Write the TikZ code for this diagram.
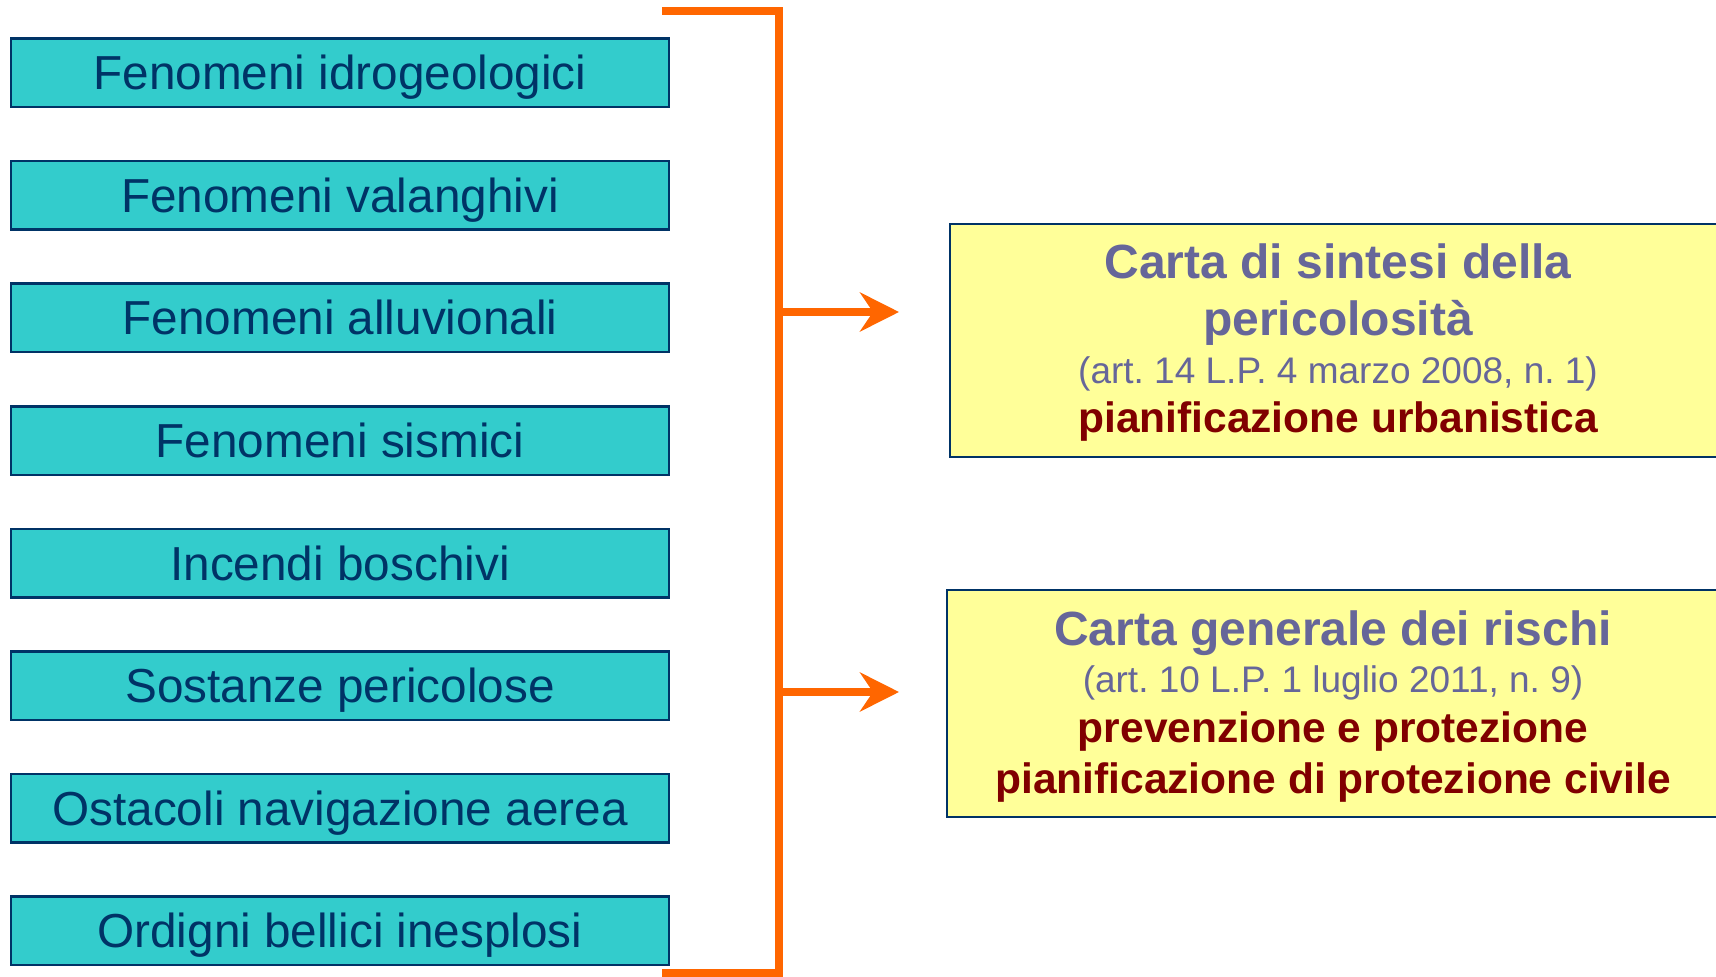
\documentclass[tikz,border=0pt]{standalone}
\usepackage{fontspec}
\setmainfont{Liberation Sans}
\usetikzlibrary{arrows.meta}
\frenchspacing
\definecolor{teal1}{RGB}{51,204,204}
\definecolor{navy1}{RGB}{0,51,102}
\definecolor{yel1}{RGB}{255,255,153}
\definecolor{slate1}{RGB}{102,102,153}
\definecolor{dred}{RGB}{128,0,0}
\definecolor{orng}{RGB}{255,102,0}
\tikzset{
  hazard/.style={draw=navy1, line width=2.5pt, fill=teal1, minimum width=658pt,
    minimum height=68.5pt, inner sep=0pt, text height=34pt, text depth=0pt,
    text=navy1, font=\fontsize{47.7}{57}\selectfont},
  cartabox/.style={draw=navy1, line width=2.2pt, fill=yel1, anchor=north west, inner sep=0pt},
  ttl/.style={anchor=base, inner sep=0pt, text=slate1, font=\bfseries\fontsize{48}{57}\selectfont},
  subttl/.style={anchor=base, inner sep=0pt, text=slate1, font=\fontsize{37}{44}\selectfont},
  usage/.style={anchor=base, inner sep=0pt, text=dred, font=\bfseries\fontsize{42.5}{50}\selectfont},
  bracketline/.style={draw=orng, line width=8pt, line join=miter},
  arr/.style={draw=orng, line width=8pt, -{Stealth[length=39pt, width=39pt, inset=13pt]}},
}
\begin{document}
\begin{tikzpicture}[x=1pt, y=-1pt]
\useasboundingbox (0,0) rectangle (1716,977);
\clip (0,0) rectangle (1716,977);
% left boxes
\node[hazard] (h1) at (340, 72.75) {Fenomeni idrogeologici};
\node[hazard] (h2) at (340, 195.35) {Fenomeni valanghivi};
\node[hazard] (h3) at (340, 317.95) {Fenomeni alluvionali};
\node[hazard] (h4) at (340, 440.55) {Fenomeni sismici};
\node[hazard] (h5) at (340, 563.15) {Incendi boschivi};
\node[hazard] (h6) at (340, 685.75) {Sostanze pericolose};
\node[hazard] (h7) at (340, 808.35) {Ostacoli navigazione aerea};
\node[hazard] (h8) at (340, 930.95) {Ordigni bellici inesplosi};
% right boxes
\node[cartabox, minimum width=780pt, minimum height=233pt] (c1) at (949, 223) {};
\node[cartabox, minimum width=780pt, minimum height=227pt] (c2) at (946, 589) {};
% texts box 1
\node[ttl] (c1a) at (1338, 278) {Carta di sintesi della};
\node[ttl] (c1b) at (1338, 335) {pericolosità};
\node[subttl] (c1c) at (1338, 383) {(art. 14 L.P. 4 marzo 2008, n. 1)};
\node[usage] (c1d) at (1338, 432) {pianificazione urbanistica};
% texts box 2
\node[ttl] (c2a) at (1333, 645) {Carta generale dei rischi};
\node[subttl] (c2b) at (1333, 692) {(art. 10 L.P. 1 luglio 2011, n. 9)};
\node[usage] (c2c) at (1333, 742) {prevenzione e protezione};
\node[usage] (c2d) at (1333, 793) {pianificazione di protezione civile};
% bracket
\coordinate (bt0) at (662, 11);
\coordinate (bt1) at (779, 11);
\coordinate (bb1) at (779, 973);
\coordinate (bb0) at (662, 973);
\draw[bracketline] (bt0) -- (bt1) -- (bb1) -- (bb0);
% arrows
\coordinate (j1) at (779, 312);
\coordinate (e1) at (899, 312);
\coordinate (j2) at (779, 692);
\coordinate (e2) at (899, 692);
\draw[arr] (j1) -- (e1);
\draw[arr] (j2) -- (e2);
\end{tikzpicture}
\end{document}
